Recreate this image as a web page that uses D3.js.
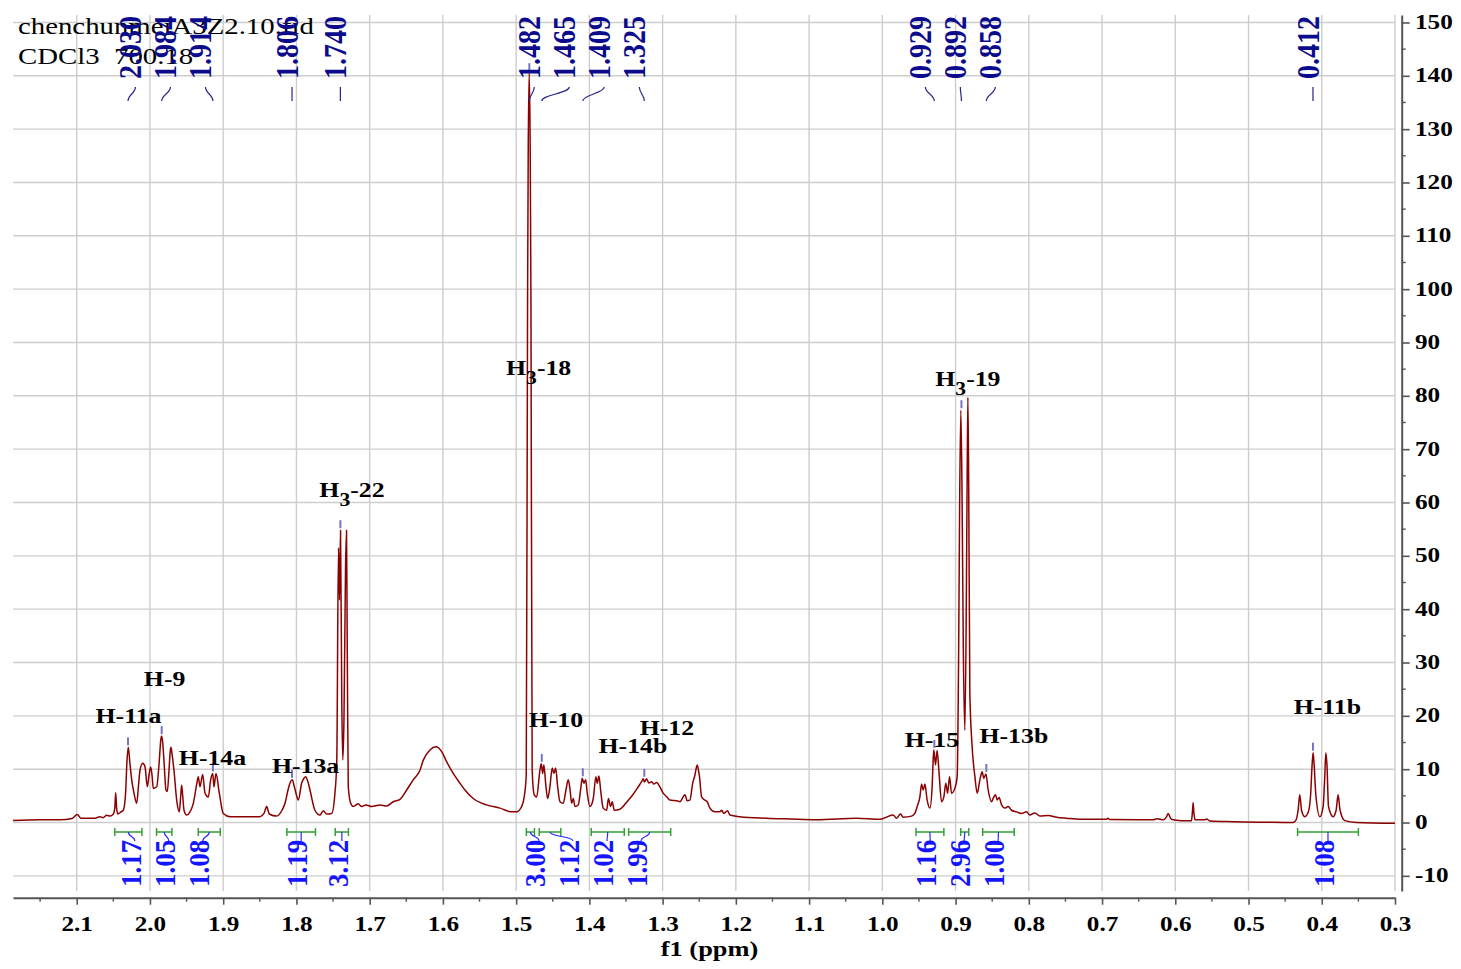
<!DOCTYPE html>
<html>
<head>
<meta charset="utf-8">
<script src="https://cdn.jsdelivr.net/npm/d3@7"></script>
<style>
  body { margin: 0; background: #fff; }
  svg { display: block; }
</style>
</head>
<body>
<svg id="chart" width="1461" height="969"></svg>
<script>
// 1H NMR trace, [chemical shift (ppm), intensity]
const spectrum = [
  [2.1870,0.4],[2.1501,0.5],[2.1228,0.5],[2.1064,0.75],[2.0992,1.5],[2.0941,0.8],[2.0750,0.8],[2.0682,1.1],
  [2.0641,0.9],[2.0590,1.35],[2.0545,1.2],[2.0500,1.6],[2.0480,2.7],[2.0468,5.6],[2.0455,2.7],[2.0439,1.6],
  [2.0395,2.0],[2.0364,2.3],[2.0334,5.2],[2.0313,11.7],[2.0296,14.1],[2.0275,11.3],[2.0249,8.0],[2.0218,5.5],
  [2.0181,3.6],[2.0156,7.0],[2.0136,9.8],[2.0099,11.1],[2.0068,10.5],[2.0036,6.7],[2.0013,8.9],[1.9990,10.4],
  [1.9972,8.9],[1.9954,6.4],[1.9908,6.7],[1.9872,11.7],[1.9852,15.5],[1.9840,16.2],[1.9827,15.1],[1.9809,11.7],
  [1.9781,6.1],[1.9763,5.8],[1.9740,9.8],[1.9724,13.2],[1.9713,14.1],[1.9697,12.7],[1.9672,9.8],[1.9635,4.2],
  [1.9599,2.0],[1.9579,5.2],[1.9567,7.0],[1.9554,5.2],[1.9535,2.3],[1.9498,1.4],[1.9453,2.0],[1.9408,3.6],
  [1.9364,7.0],[1.9340,8.6],[1.9317,6.7],[1.9280,9.0],[1.9248,5.5],[1.9203,4.8],[1.9171,8.0],[1.9143,9.2],
  [1.9126,6.7],[1.9098,9.2],[1.9053,5.5],[1.8999,1.7],[1.8907,1.1],[1.8498,1.1],[1.8443,1.7],[1.8406,3.0],
  [1.8371,1.6],[1.8270,1.2],[1.8197,2.3],[1.8156,3.6],[1.8115,6.1],[1.8088,7.4],[1.8057,8.0],[1.8034,7.0],
  [1.8006,5.5],[1.7975,4.2],[1.7928,7.4],[1.7897,8.3],[1.7874,8.6],[1.7842,7.6],[1.7815,6.1],[1.7747,2.3],
  [1.7678,1.4],[1.7633,2.2],[1.7587,1.6],[1.7519,1.7],[1.7474,5.5],[1.7449,11.7],[1.7426,51.5],[1.7412,41.7],
  [1.7398,54.8],[1.7381,23.0],[1.7367,11.7],[1.7351,19.2],[1.7330,47.3],[1.7316,54.8],[1.7306,32.3],[1.7292,6.7],
  [1.7259,3.6],[1.7224,3.0],[1.7156,3.5],[1.7109,3.0],[1.7050,3.3],[1.6973,3.0],[1.6859,3.3],[1.6768,3.1],
  [1.6678,3.9],[1.6586,4.35],[1.6495,6.1],[1.6405,8.0],[1.6313,9.8],[1.6268,11.7],[1.6177,13.6],[1.6095,14.2],
  [1.6017,13.3],[1.5949,11.4],[1.5859,9.2],[1.5767,7.35],[1.5699,6.1],[1.5586,4.5],[1.5403,3.3],[1.5221,2.7],
  [1.5062,2.0],[1.4993,2.0],[1.4925,3.0],[1.4890,4.8],[1.4862,8.9],[1.4844,98.0],[1.4835,126.1],[1.4821,140.5],
  [1.4808,126.1],[1.4798,98.0],[1.4781,9.8],[1.4753,5.2],[1.4720,4.8],[1.4675,9.8],[1.4657,11.0],[1.4638,9.2],
  [1.4621,10.8],[1.4597,7.35],[1.4570,4.5],[1.4539,6.7],[1.4507,10.2],[1.4484,9.2],[1.4461,10.2],[1.4433,6.7],
  [1.4402,3.9],[1.4357,3.6],[1.4320,6.1],[1.4289,8.0],[1.4266,6.4],[1.4242,3.6],[1.4220,4.5],[1.4197,3.0],
  [1.4152,3.3],[1.4115,6.7],[1.4098,8.3],[1.4074,7.35],[1.4051,8.0],[1.4029,5.5],[1.3992,3.0],[1.3947,4.5],
  [1.3911,8.6],[1.3893,7.35],[1.3870,8.7],[1.3842,5.5],[1.3811,2.7],[1.3764,2.3],[1.3740,4.5],[1.3710,3.0],
  [1.3688,3.9],[1.3661,2.3],[1.3583,2.5],[1.3492,3.8],[1.3402,5.3],[1.3333,6.7],[1.3287,7.65],[1.3265,8.2],
  [1.3249,7.6],[1.3219,8.2],[1.3187,7.4],[1.3150,7.65],[1.3119,7.2],[1.3082,7.5],[1.3037,6.7],[1.2992,5.5],
  [1.2941,4.8],[1.2900,4.2],[1.2805,4.1],[1.2764,3.9],[1.2696,5.2],[1.2664,4.1],[1.2627,4.2],[1.2590,7.35],
  [1.2559,8.9],[1.2541,10.2],[1.2528,10.8],[1.2511,9.8],[1.2497,8.7],[1.2468,4.8],[1.2423,4.2],[1.2391,3.9],
  [1.2354,2.7],[1.2286,2.0],[1.2218,2.0],[1.2194,2.3],[1.2163,1.7],[1.2113,2.2],[1.2081,1.4],[1.1945,1.1],
  [1.1580,0.8],[1.1262,0.65],[1.0898,0.5],[1.0351,0.8],[1.0033,0.6],[0.9852,1.4],[0.9806,0.8],[0.9751,1.6],
  [0.9716,1.0],[0.9601,1.2],[0.9556,1.7],[0.9524,3.0],[0.9487,4.8],[0.9464,7.2],[0.9442,6.1],[0.9419,7.2],
  [0.9388,4.2],[0.9351,2.7],[0.9320,6.7],[0.9306,11.7],[0.9297,13.6],[0.9274,10.8],[0.9252,13.5],[0.9225,9.2],
  [0.9192,3.9],[0.9160,4.8],[0.9133,7.35],[0.9109,5.5],[0.9082,8.6],[0.9055,5.5],[0.9010,6.4],[0.8978,8.6],
  [0.8959,30.5],[0.8944,60.5],[0.8928,77.3],[0.8911,60.5],[0.8894,32.3],[0.8873,17.3],[0.8853,41.7],[0.8842,64.2],
  [0.8832,79.7],[0.8821,64.2],[0.8805,24.3],[0.8777,14.9],[0.8736,8.6],[0.8705,5.5],[0.8668,8.0],[0.8637,9.5],
  [0.8614,8.3],[0.8586,9.1],[0.8555,6.1],[0.8509,3.9],[0.8477,4.8],[0.8454,5.2],[0.8432,4.2],[0.8405,4.7],
  [0.8372,3.3],[0.8327,2.7],[0.8282,3.0],[0.8236,2.3],[0.8168,2.0],[0.8099,1.7],[0.8031,2.0],[0.7986,1.4],
  [0.7918,1.8],[0.7849,1.2],[0.7736,1.3],[0.7621,1.0],[0.7485,0.8],[0.7303,0.6],[0.6939,0.6],[0.6921,0.8],
  [0.6893,0.55],[0.6302,0.5],[0.6247,0.7],[0.6166,0.5],[0.6122,1.0],[0.6097,1.7],[0.6071,1.0],[0.6047,0.55],
  [0.5915,0.35],[0.5778,0.35],[0.5766,2.0],[0.5756,3.7],[0.5747,2.0],[0.5729,0.5],[0.5597,0.5],[0.5573,0.65],
  [0.5528,0.3],[0.5210,0.15],[0.4754,0.05],[0.4391,0.0],[0.4354,0.4],[0.4323,2.3],[0.4300,5.2],[0.4276,2.3],
  [0.4231,1.1],[0.4183,2.0],[0.4152,5.2],[0.4132,10.8],[0.4118,13.1],[0.4104,10.8],[0.4081,5.2],[0.4026,1.1],
  [0.3981,3.0],[0.3961,8.0],[0.3944,13.1],[0.3929,10.8],[0.3908,3.0],[0.3845,1.1],[0.3804,2.3],[0.3777,5.2],
  [0.3750,2.3],[0.3685,0.35],[0.3526,0.0],[0.3000,-0.15]
];

// picked peaks (ppm)
const peakPicks = [2.030, 1.984, 1.914, 1.806, 1.740, 1.482, 1.465, 1.409, 1.325, 0.929, 0.892, 0.858, 0.412];

// integral regions
const integralFrom   = [2.048, 1.991, 1.934, 1.813, 1.747, 1.486, 1.4685, 1.3975, 1.3464, 0.954, 0.893, 0.863, 0.433];
const integralTo     = [2.011, 1.970, 1.904, 1.774, 1.729, 1.475, 1.439, 1.3524, 1.289, 0.916, 0.882, 0.820, 0.350];
const integralValues = ["1.17", "1.05", "1.08", "1.19", "3.12", "3.00", "1.12", "1.02", "1.99", "1.16", "2.96", "1.00", "1.08"];

// assignments ("_" marks a subscript)
const assignText   = ["H-11a", "H-9", "H-14a", "H-13a", "H_3-22", "H_3-18", "H-10", "H-14b", "H-12", "H-15", "H_3-19", "H-13b", "H-11b"];
const assignPpm    = [2.0293, 1.980, 1.9146, 1.7875, 1.7242, 1.4693, 1.4457, 1.3405, 1.2941, 0.9323, 0.8832, 0.8204, 0.3924];
const assignHeight = [18.66, 25.6, 10.8, 9.3, 61.0, 83.9, 18.0, 13.1, 16.4, 14.2, 81.8, 15.0, 20.3];

// axes
const xTicks = d3.range(3, 22).map(d => d / 10);
const xMinorTicks = d3.range(3, 22).map(d => d / 10 + 0.05);
const yTicks = d3.range(-10, 151, 10);
const yMinorTicks = d3.range(-5, 151, 10);
const xTitle = "f1 (ppm)";
const headerLines = ["chenchunmeiA3Z2.10.fid", "CDCl3  700.18"];

const svg = d3.select("#chart");
const FONT = "'Liberation Serif', 'Times New Roman', serif";
const SX = 1.2;

const x = d3.scaleLinear().domain([2.187, 0.3]).range([13, 1395]);
const y = d3.scaleLinear().domain([-12.84, 151.4]).range([891, 15]);

// grid
const grid = svg.append("g").attr("stroke", "#cdcdcd").attr("stroke-width", 1.4);
grid.selectAll("line.v").data(xTicks).join("line")
  .attr("x1", d => x(d)).attr("x2", d => x(d)).attr("y1", 15).attr("y2", 891);
grid.selectAll("line.h").data(yTicks).join("line")
  .attr("x1", 13).attr("x2", 1395).attr("y1", d => y(d)).attr("y2", d => y(d));

// header
svg.append("g").selectAll("text").data(headerLines).join("text")
  .attr("transform", (d, i) => `translate(18,${34 + i * 30}) scale(${SX},1)`)
  .attr("font-family", FONT).attr("font-size", 24).attr("fill", "#000")
  .style("white-space", "pre")
  .text(d => d);

// x axis
const xAxis = svg.append("g").attr("transform", "translate(0,897.7)")
  .call(d3.axisBottom(x).tickValues(xTicks).tickSize(7).tickSizeOuter(0).tickFormat(d3.format(".1f")));
xAxis.select(".domain").attr("stroke", "#555").attr("stroke-width", 2);
xAxis.selectAll(".tick line").attr("stroke", "#555").attr("stroke-width", 1.6);
xAxis.selectAll(".tick text")
  .attr("y", 18).attr("font-family", FONT).attr("font-size", 21).attr("font-weight", "bold")
  .attr("fill", "#000").attr("transform", `scale(${SX},1)`);
xAxis.selectAll("line.minor").data(xMinorTicks).join("line").attr("class", "minor")
  .attr("x1", d => x(d)).attr("x2", d => x(d)).attr("y1", 0).attr("y2", 4)
  .attr("stroke", "#555").attr("stroke-width", 1.4);

svg.append("text")
  .attr("transform", `translate(709.5,956) scale(${SX},1)`)
  .attr("text-anchor", "middle").attr("font-family", FONT).attr("font-size", 22)
  .attr("font-weight", "bold").text(xTitle);

// y axis
const yAxis = svg.append("g").attr("transform", "translate(1401.7,0)")
  .call(d3.axisRight(y).tickValues(yTicks).tickSize(8).tickSizeOuter(0).tickFormat(d => String(d)));
yAxis.select(".domain").attr("stroke", "#555").attr("stroke-width", 2);
yAxis.selectAll(".tick line").attr("stroke", "#555").attr("stroke-width", 1.6);
yAxis.selectAll(".tick text")
  .attr("x", 13.3 / SX).attr("dy", "0.28em").attr("font-family", FONT).attr("font-size", 21)
  .attr("font-weight", "bold").attr("fill", "#000").attr("transform", `scale(${SX},1)`);
yAxis.selectAll("line.minor").data(yMinorTicks).join("line").attr("class", "minor")
  .attr("x1", 0).attr("x2", 4).attr("y1", d => y(d)).attr("y2", d => y(d))
  .attr("stroke", "#555").attr("stroke-width", 1.4);

// spectrum
svg.append("clipPath").attr("id", "plotClip").append("rect")
  .attr("x", 13).attr("y", 15).attr("width", 1382).attr("height", 876);
svg.append("path").datum(spectrum)
  .attr("clip-path", "url(#plotClip)")
  .attr("fill", "none").attr("stroke", "#8b0000").attr("stroke-width", 1.5)
  .attr("stroke-linejoin", "round")
  .attr("d", d3.line().x(d => x(d[0])).y(d => y(d[1])).curve(d3.curveMonotoneX));

// peak markers just above each picked maximum
const peakTop = p => d3.max(spectrum.filter(d => Math.abs(d[0] - p) < 0.003), d => d[1]);
svg.append("g").selectAll("line").data(peakPicks).join("line")
  .attr("x1", d => x(d)).attr("x2", d => x(d))
  .attr("y1", d => y(peakTop(d)) - 2).attr("y2", d => y(peakTop(d)) - 10)
  .attr("stroke", "#7575c4").attr("stroke-width", 2);

// Label layout: neighbouring labels form a group; a crowded group is laid out
// at even spacing, centred between its outermost members.
function layoutLabels(centers, gap) {
  const out = centers.slice();
  let i = 0;
  while (i < centers.length) {
    let j = i;
    while (j + 1 < centers.length && centers[j + 1] - centers[j] < 2 * gap) j++;
    let crowded = false;
    for (let k = i; k < j; k++) if (centers[k + 1] - centers[k] < gap * 1.06) crowded = true;
    if (crowded) {
      const mid = (centers[i] + centers[j]) / 2, n = j - i + 1;
      for (let k = i; k <= j; k++) out[k] = mid + (k - i - (n - 1) / 2) * gap;
    }
    i = j + 1;
  }
  return out;
}

// peak shift labels
const peakAnchor = layoutLabels(peakPicks.map(p => x(p)), 35);
const pl = svg.append("g");
pl.selectAll("path").data(peakPicks).join("path")
  .attr("d", (d, i) => `M${x(d)},101 C${x(d)},95 ${peakAnchor[i]},93 ${peakAnchor[i]},87`)
  .attr("fill", "none").attr("stroke", "#23238f").attr("stroke-width", 1.2);
pl.selectAll("text").data(peakPicks).join("text")
  .attr("transform", (d, i) => `translate(${peakAnchor[i] + 6},79) scale(1.1,1) rotate(-90)`)
  .attr("font-family", FONT).attr("font-size", 28).attr("font-weight", "bold")
  .attr("fill", "#0b0b8c").text(d => d.toFixed(3));

// integrals
const intCenter = integralFrom.map((f, i) => x((f + integralTo[i]) / 2));
const intAnchor = layoutLabels(intCenter, 34);
const ig = svg.append("g");
ig.selectAll("path.bar").data(integralValues).join("path").attr("class", "bar")
  .attr("d", (d, i) => {
    const a = x(integralFrom[i]), b = x(integralTo[i]);
    return `M${a},828 V836 M${a},832 H${b} M${b},828 V836`;
  })
  .attr("fill", "none").attr("stroke", "#33a033").attr("stroke-width", 1.5);
ig.selectAll("path.link").data(integralValues).join("path").attr("class", "link")
  .attr("d", (d, i) => `M${intCenter[i]},832 C${intCenter[i]},837 ${intAnchor[i]},836 ${intAnchor[i]},841`)
  .attr("fill", "none").attr("stroke", "#2a2aff").attr("stroke-width", 1.2);
ig.selectAll("text").data(integralValues).join("text")
  .attr("transform", (d, i) => `translate(${intAnchor[i] + 6},887) scale(1.1,1) rotate(-90)`)
  .attr("font-family", FONT).attr("font-size", 27).attr("font-weight", "bold")
  .attr("fill", "#1414ff").text(d => d);

// assignments
const ag = svg.append("g");
assignText.forEach((t, i) => {
  const txt = ag.append("text")
    .attr("transform", `translate(${x(assignPpm[i])},${y(assignHeight[i])}) scale(${SX},1)`)
    .attr("text-anchor", "middle").attr("font-family", FONT).attr("font-size", 21.5)
    .attr("font-weight", "bold").attr("fill", "#000");
  const parts = t.split("_");
  if (parts.length === 1) {
    txt.text(t);
  } else {
    txt.append("tspan").text(parts[0]);
    txt.append("tspan").attr("font-size", 18).attr("dy", 9).text(parts[1][0]);
    txt.append("tspan").attr("dy", -9).text(parts[1].slice(1));
  }
});
</script>
</body>
</html>
